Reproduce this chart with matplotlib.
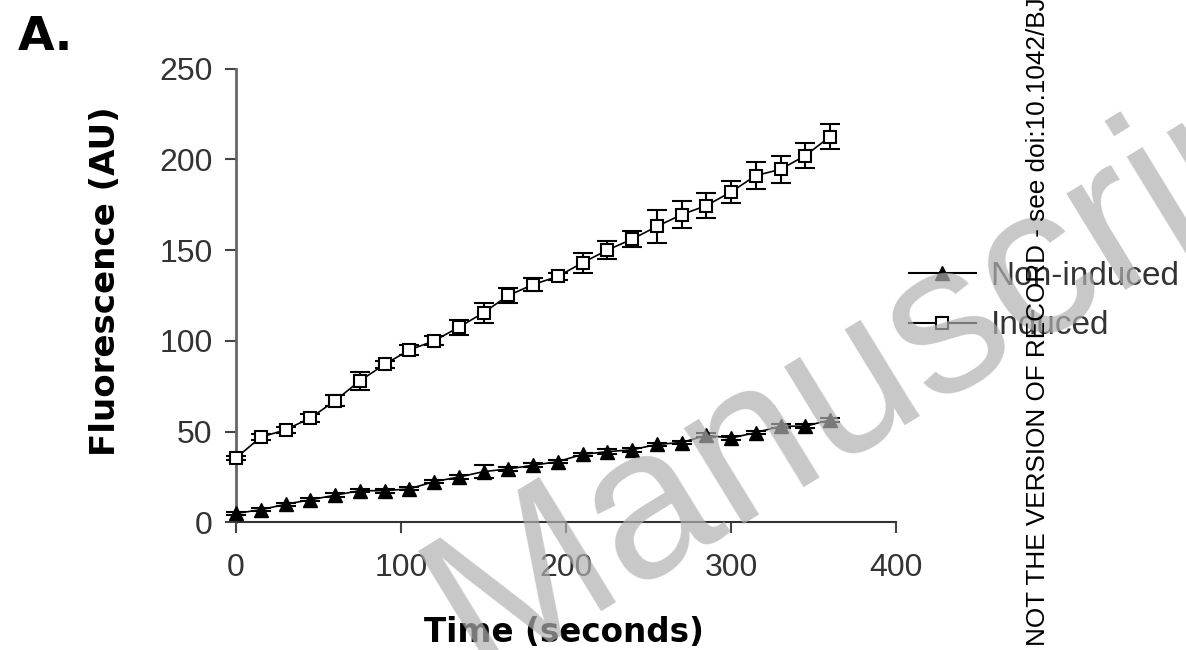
import numpy as np
import matplotlib
matplotlib.use("Agg")
import matplotlib.pyplot as plt
from matplotlib.lines import Line2D

# time points (seconds)
time_s = [0, 15, 30, 45, 60, 75, 90, 105, 120, 135, 150, 165, 180,
          195, 210, 225, 240, 255, 270, 285, 300, 315, 330, 345, 360]

# fluorescence (AU)
non_induced = [5, 7, 10, 12.5, 15, 17.5, 17.5, 18.5, 22.5, 25, 28, 29.5, 31.5,
               33.5, 37.5, 39, 40, 43, 44, 48, 46.5, 49.5, 53, 53, 56.5]
non_induced_err = [0.8, 0.8, 0.8, 0.8, 1, 0.8, 1, 0.8, 0.8, 1, 3.5, 1, 1,
                   1, 1, 1.5, 1, 1, 1, 1, 1, 1, 1, 1, 1]

induced = [35.5, 47, 51, 57.5, 67, 78, 87, 95, 100, 107.5, 115.5, 125, 131,
           135.5, 143, 150, 156, 163, 169.5, 174.5, 182, 191, 194.5, 202, 212.5]
induced_err = [1, 1.5, 1.5, 2, 3, 5, 2, 3, 2.5, 4, 5.5, 4, 3.5,
               2, 5.5, 5, 4.5, 9, 7.5, 7, 6, 7.5, 7.5, 7, 7]

x_ticks = [0, 100, 200, 300, 400]
y_ticks = [0, 50, 100, 150, 200, 250]

fig = plt.figure(figsize=(11.86, 6.5), dpi=100)
ax = fig.add_axes([0.199, 0.1962, 0.5565, 0.6984])

ax.errorbar(time_s, non_induced, yerr=non_induced_err, color="black",
            marker="^", markersize=10, markerfacecolor="black",
            linewidth=1.2, elinewidth=1.5, capsize=7, capthick=1.5,
            clip_on=False, zorder=3)
ax.errorbar(time_s, induced, yerr=induced_err, color="black",
            marker="s", markersize=9, markerfacecolor="white",
            markeredgewidth=1.5, linewidth=1.2, elinewidth=1.5,
            capsize=7, capthick=1.5, clip_on=False, zorder=3)

ax.set_xlim(0, 400)
ax.set_ylim(0, 250)
ax.set_xticks(x_ticks)
ax.set_yticks(y_ticks)
for side in ["top", "right"]:
    ax.spines[side].set_visible(False)
ax.spines["left"].set_color("#666666")
ax.spines["bottom"].set_color("#333333")
ax.spines["left"].set_linewidth(2)
ax.spines["bottom"].set_linewidth(1.5)
ax.tick_params(direction="out", length=8, width=1.5, colors="#444444",
               labelcolor="#333333", labelsize=23, pad=9)
ax.tick_params(axis="x", pad=14)
for lab in ax.get_xticklabels() + ax.get_yticklabels():
    lab.set_family("Liberation Sans")

ax.set_xlabel("Time (seconds)", fontsize=23.5, fontweight="bold",
              family="DejaVu Sans")
ax.xaxis.set_label_coords(0.497, -0.205)
ax.set_ylabel("Fluorescence (AU)", fontsize=24.5, fontweight="bold",
              family="DejaVu Sans")
ax.yaxis.set_label_coords(-0.173, 0.532)

handles = [
    Line2D([], [], color="black", linewidth=1.5, marker="^", markersize=10,
           markerfacecolor="black"),
    Line2D([], [], color="black", linewidth=1.5, marker="s", markersize=9,
           markerfacecolor="white", markeredgewidth=1.5),
]
leg = ax.legend(handles, ["Non-induced", "Induced"], loc="center left",
                bbox_to_anchor=(909 / 1186, 1 - 301 / 650),
                bbox_transform=fig.transFigure, frameon=False,
                prop={"family": "Liberation Sans", "size": 24},
                handlelength=2.0, handletextpad=0.45, labelspacing=0.56,
                borderpad=0, borderaxespad=0)
for t in leg.get_texts():
    t.set_color("#333333")

fig.text(18 / 1186, 1 - 50 / 650, "A.", fontsize=34, fontweight="heavy",
         family="DejaVu Sans", ha="left", va="baseline")

# watermarks
fig.text(478 / 1186, 1 - 676 / 650, "Manuscript", fontsize=153,
         family="Liberation Sans", color="#b0b0b0", alpha=0.7,
         rotation=31.5, rotation_mode="anchor", ha="left", va="baseline",
         zorder=10)
fig.text(1045 / 1186, 1 - 646 / 650,
         "NOT THE VERSION OF RECORD - see doi:10.1042/BJ", fontsize=18.8,
         family="Liberation Sans", color="black", rotation=90,
         rotation_mode="anchor", ha="left", va="baseline", zorder=11)

fig.savefig("out.png", dpi=100)
